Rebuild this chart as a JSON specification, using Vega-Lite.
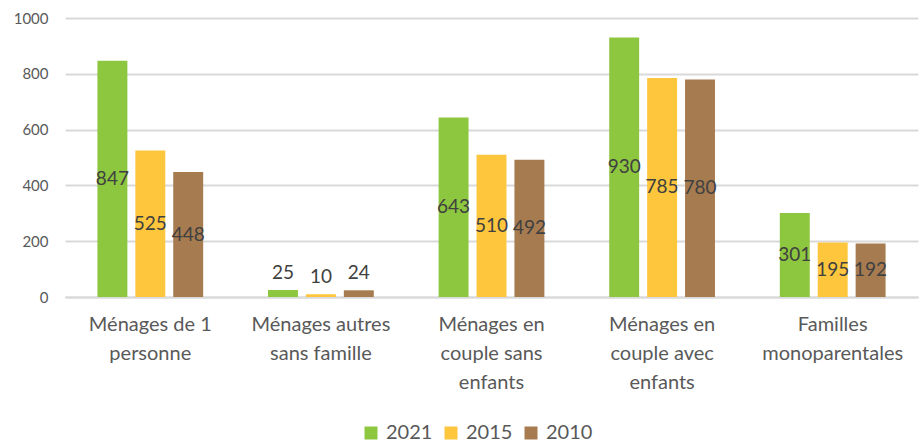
{
  "$schema": "https://vega.github.io/schema/vega-lite/v6.json",
  "width": 853,
  "height": 279,
  "autosize": {"type": "none"},
  "padding": {"left": 65, "top": 18, "right": 2, "bottom": 148},
  "background": "white",
  "config": {
    "view": {"stroke": null},
    "font": "Lato"
  },
  "data": {
    "values": [
      {"categorie": "Ménages de 1|personne", "annee": "2021", "valeur": 847},
      {"categorie": "Ménages de 1|personne", "annee": "2015", "valeur": 525},
      {"categorie": "Ménages de 1|personne", "annee": "2010", "valeur": 448},
      {"categorie": "Ménages autres|sans famille", "annee": "2021", "valeur": 25},
      {"categorie": "Ménages autres|sans famille", "annee": "2015", "valeur": 10},
      {"categorie": "Ménages autres|sans famille", "annee": "2010", "valeur": 24},
      {"categorie": "Ménages en|couple sans|enfants", "annee": "2021", "valeur": 643},
      {"categorie": "Ménages en|couple sans|enfants", "annee": "2015", "valeur": 510},
      {"categorie": "Ménages en|couple sans|enfants", "annee": "2010", "valeur": 492},
      {"categorie": "Ménages en|couple avec|enfants", "annee": "2021", "valeur": 930},
      {"categorie": "Ménages en|couple avec|enfants", "annee": "2015", "valeur": 785},
      {"categorie": "Ménages en|couple avec|enfants", "annee": "2010", "valeur": 780},
      {"categorie": "Familles|monoparentales", "annee": "2021", "valeur": 301},
      {"categorie": "Familles|monoparentales", "annee": "2015", "valeur": 195},
      {"categorie": "Familles|monoparentales", "annee": "2010", "valeur": 192}
    ]
  },
  "encoding": {
    "x": {
      "field": "categorie",
      "type": "nominal",
      "sort": null,
      "scale": {"paddingInner": 0.38, "paddingOuter": 0.19},
      "axis": {
        "title": null,
        "labelAngle": 0,
        "labelExpr": "split(datum.value, '|')",
        "labelFontSize": 20,
        "labelColor": "#595959",
        "labelLineHeight": 29,
        "labelPadding": 17,
        "ticks": false,
        "domainColor": "#d9d9d9",
        "domainWidth": 2,
        "labelLimit": 300
      }
    },
    "xOffset": {
      "field": "annee",
      "type": "nominal",
      "sort": ["2021", "2015", "2010"],
      "scale": {"paddingInner": 0.21, "paddingOuter": 0}
    }
  },
  "layer": [
    {
      "mark": {"type": "bar"},
      "encoding": {
        "y": {
          "field": "valeur",
          "type": "quantitative",
          "scale": {"domain": [0, 1000]},
          "axis": {
            "title": null,
            "values": [0, 200, 400, 600, 800, 1000],
            "format": "d",
            "labelFontSize": 15,
            "labelColor": "#595959",
            "labelPadding": 17,
            "ticks": false,
            "domain": false,
            "gridColor": "#d9d9d9",
            "gridWidth": 2
          }
        },
        "color": {
          "field": "annee",
          "type": "nominal",
          "sort": ["2021", "2015", "2010"],
          "scale": {"domain": ["2021", "2015", "2010"], "range": ["#8DC63F", "#FEC63D", "#A67B50"]},
          "legend": {
            "title": null,
            "orient": "none",
            "direction": "horizontal",
            "legendX": 296,
            "legendY": 405,
            "symbolType": "square",
            "symbolSize": 169,
            "symbolStrokeWidth": 0,
            "labelFontSize": 20,
            "labelColor": "#595959",
            "labelOffset": 5,
            "columnPadding": 8
          }
        }
      }
    },
    {
      "transform": [
        {"filter": "datum.valeur >= 100"},
        {"calculate": "datum.valeur / 2", "as": "milieu"}
      ],
      "mark": {"type": "text", "fontSize": 19, "color": "#404040", "baseline": "middle"},
      "encoding": {
        "y": {"field": "milieu", "type": "quantitative"},
        "text": {"field": "valeur", "type": "quantitative"}
      }
    },
    {
      "transform": [{"filter": "datum.valeur < 100"}],
      "mark": {"type": "text", "fontSize": 19, "color": "#404040", "baseline": "bottom", "dy": -7},
      "encoding": {
        "y": {"field": "valeur", "type": "quantitative"},
        "text": {"field": "valeur", "type": "quantitative"}
      }
    }
  ]
}
